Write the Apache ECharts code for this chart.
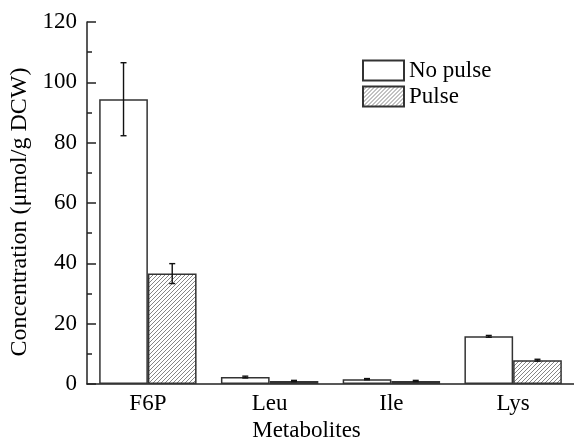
<!DOCTYPE html>
<html>
<head>
<meta charset="utf-8">
<script src="https://cdn.jsdelivr.net/npm/echarts@6/dist/echarts.min.js"></script>
<style>
html,body{margin:0;padding:0;background:#fff}
#chart{width:574px;height:437px}
</style>
</head>
<body>
<div id="chart"></div>
<script>
// categories and values
var metabolites = ['F6P', 'Leu', 'Ile', 'Lys'];
var noPulse = [94.4, 2.3, 1.6, 15.8];
var noPulseErr = [12.1, 0.3, 0.2, 0.3];
var pulse = [36.6, 1.0, 1.0, 7.9];
var pulseErr = [3.3, 0.2, 0.2, 0.3];
var yTicks = [0, 120, 20];

var serif = 'Liberation Serif';
var fs = 23;

// hatch fill for the "Pulse" bars
function hatch(){
    var n = 4;
    var c = document.createElement('canvas');
    c.width = n; c.height = n;
    var ctx = c.getContext('2d');
    ctx.fillStyle = '#fff';
    ctx.fillRect(0, 0, n, n);
    ctx.strokeStyle = '#777';
    ctx.lineWidth = 0.9;
    ctx.beginPath();
    ctx.moveTo(0, n); ctx.lineTo(n, 0);
    ctx.moveTo(-1, 1); ctx.lineTo(1, -1);
    ctx.moveTo(n - 1, n + 1); ctx.lineTo(n + 1, n - 1);
    ctx.stroke();
    return c;
}

function errData(vals, errs){
    var res = [];
    for (var i = 0; i < vals.length; i++){
        res.push([i, vals[i] - errs[i], vals[i] + errs[i]]);
    }
    return res;
}

function errSeries(vals, errs, shift){
    return {
        type: 'custom',
        silent: true,
        z: 5,
        data: errData(vals, errs),
        renderItem: function(params, api){
            var band = api.size([1, 0])[0];
            var x = api.coord([api.value(0), 0])[0] + shift * band;
            var lo = api.coord([api.value(0), api.value(1)])[1];
            var hi = api.coord([api.value(0), api.value(2)])[1];
            var w = 3;
            var st = {stroke: '#111', lineWidth: 1.4};
            return {
                type: 'group',
                children: [
                    {type: 'line', shape: {x1: x, y1: lo, x2: x, y2: hi}, style: st},
                    {type: 'line', shape: {x1: x - w, y1: lo, x2: x + w, y2: lo}, style: st},
                    {type: 'line', shape: {x1: x - w, y1: hi, x2: x + w, y2: hi}, style: st}
                ]
            };
        }
    };
}

var chart = echarts.init(document.getElementById('chart'));
var option = {
    animation: false,
    backgroundColor: '#fff',
    textStyle: {fontFamily: serif, color: '#000'},
    grid: {left: 87, right: 0, top: 22, bottom: 53, outerBoundsMode: 'none'},
    legend: {
        orient: 'vertical',
        left: 362,
        top: 59,
        padding: 0,
        itemWidth: 41,
        itemHeight: 20,
        itemGap: 3,
        icon: 'rect',
        textStyle: {fontFamily: serif, fontSize: fs, color: '#000'},
        data: ['No pulse', 'Pulse']
    },
    xAxis: {
        type: 'category',
        data: metabolites,
        name: 'Metabolites',
        nameLocation: 'middle',
        nameGap: 35,
        nameTextStyle: {fontFamily: serif, fontSize: fs, color: '#000', padding: [0, 48, 0, 0]},
        axisLine: {lineStyle: {color: '#222', width: 1.5}},
        axisTick: {show: false},
        axisLabel: {fontFamily: serif, fontSize: fs, color: '#000', margin: 8}
    },
    yAxis: {
        type: 'value',
        min: yTicks[0],
        max: yTicks[1],
        interval: yTicks[2],
        name: 'Concentration (μmol/g DCW)',
        nameLocation: 'middle',
        nameGap: 55,
        nameTextStyle: {fontFamily: serif, fontSize: 24, color: '#000', padding: [0, 18, 0, 0]},
        axisLine: {show: true, lineStyle: {color: '#222', width: 1.5}},
        axisTick: {show: true, inside: true, length: 9, lineStyle: {color: '#222', width: 1.5}},
        minorTick: {show: true, splitNumber: 2, length: 5, lineStyle: {color: '#222', width: 1.5}},
        splitLine: {show: false},
        axisLabel: {fontFamily: serif, fontSize: fs, color: '#000', margin: 10}
    },
    series: [
        {
            name: 'No pulse',
            type: 'bar',
            data: noPulse,
            barGap: '0%',
            barCategoryGap: '20%',
            itemStyle: {color: '#fff', borderColor: '#333', borderWidth: 1.5}
        },
        {
            name: 'Pulse',
            type: 'bar',
            data: pulse,
            itemStyle: {color: {image: hatch(), repeat: 'repeat'}, borderColor: '#333', borderWidth: 1.5}
        },
        errSeries(noPulse, noPulseErr, -0.2),
        errSeries(pulse, pulseErr, 0.2)
    ]
};
chart.setOption(option);
</script>
</body>
</html>
